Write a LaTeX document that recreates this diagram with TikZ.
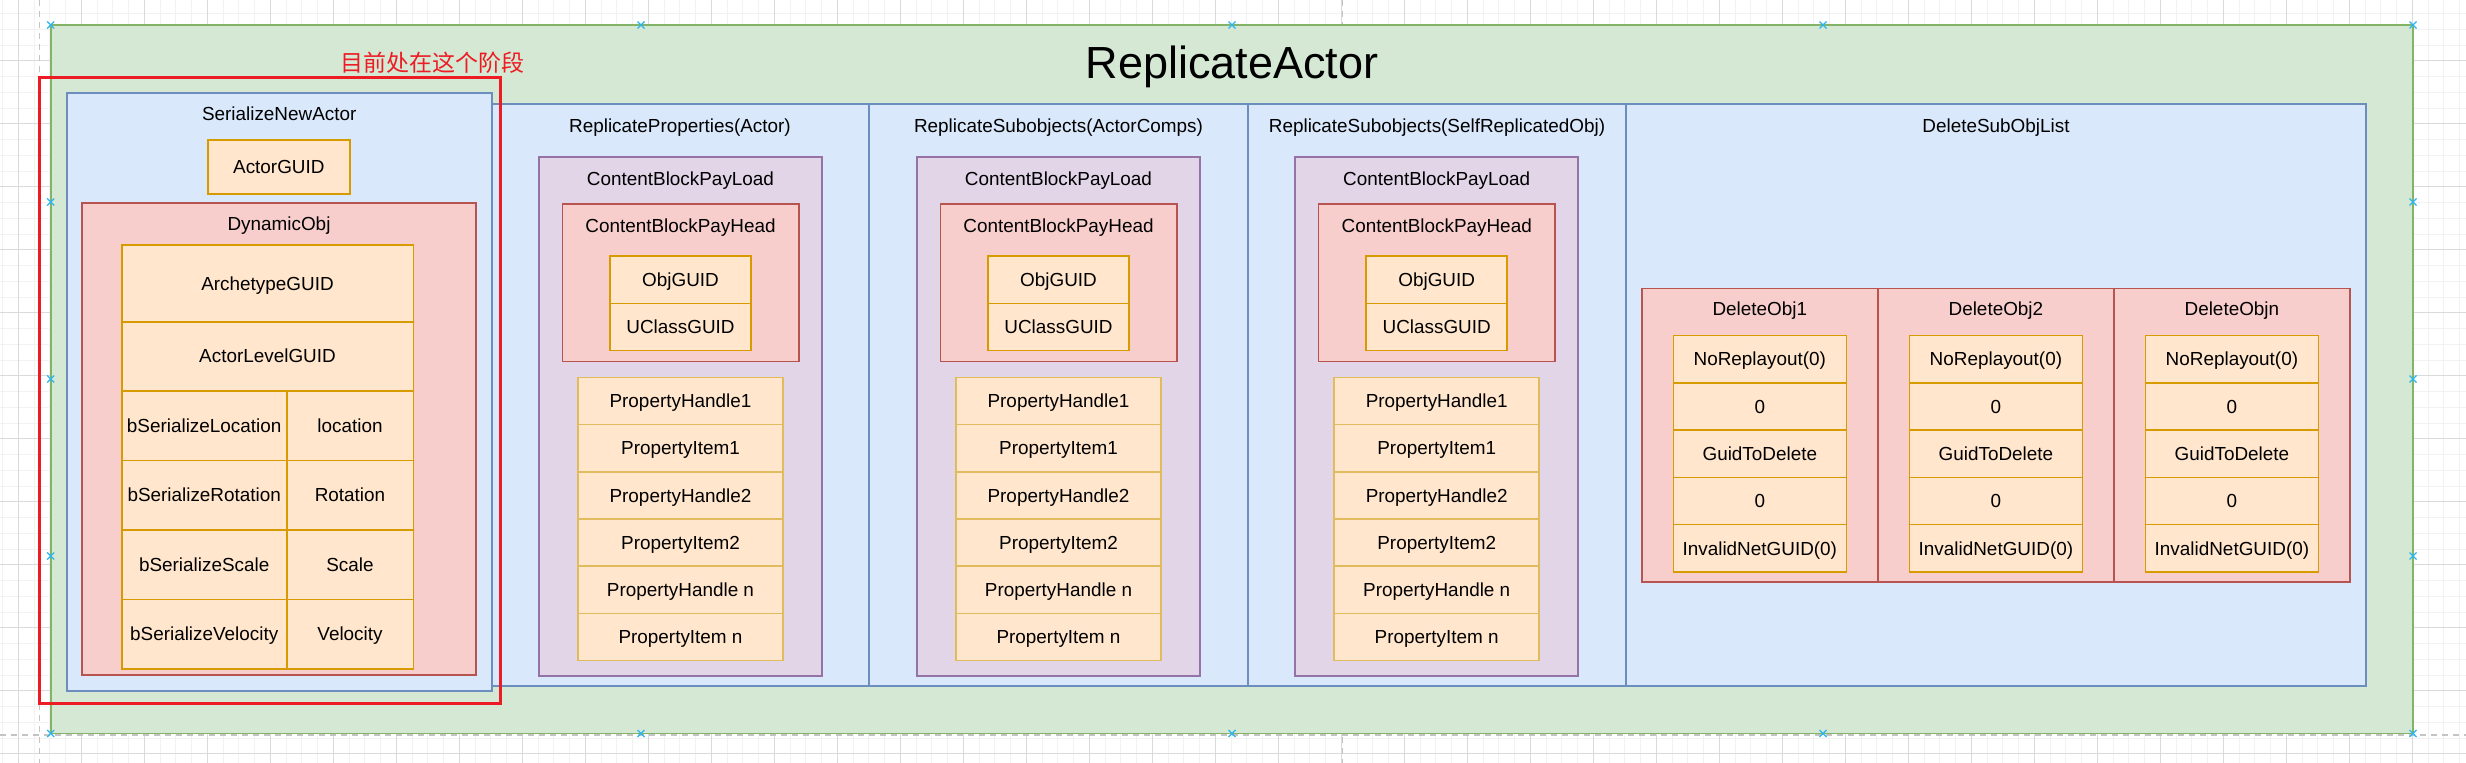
\documentclass[tikz,border=0pt]{standalone}
\usepackage{fontspec}
\setmainfont{Liberation Sans}
\newfontfamily\cjkfont{Noto Sans CJK SC}
\usetikzlibrary{positioning}
\definecolor{greenFill}{HTML}{D5E8D4}
\definecolor{greenLine}{HTML}{82B366}
\definecolor{blueFill}{HTML}{DAE8FC}
\definecolor{blueLine}{HTML}{6C8EBF}
\definecolor{redFill}{HTML}{F8CECC}
\definecolor{redLine}{HTML}{B85450}
\definecolor{orangeFill}{HTML}{FFE6CC}
\definecolor{orangeLine}{HTML}{D79B00}
\definecolor{softLine}{HTML}{E0BC5E}
\definecolor{purpleFill}{HTML}{E1D5E7}
\definecolor{purpleLine}{HTML}{9673A6}
\definecolor{hiRed}{HTML}{ED1C24}
\definecolor{gridMinor}{HTML}{F2F2F2}
\definecolor{gridMajor}{HTML}{DADADA}
\definecolor{pageGray}{HTML}{C4C4C4}
\definecolor{markBlue}{HTML}{29B6F2}
\newcommand\lblfont{\fontsize{18.9}{22}\selectfont}
\tikzset{
  anybox/.style={rectangle, inner sep=0pt, outer sep=0pt, line width=1.6pt},
  area/.style n args={4}{minimum width={(#3)-(#1)}, minimum height={(#4)-(#2)},
    at={({((#1)+(#3))/2},{((#2)+(#4))/2})}},
  outerframe/.style={anybox, fill=greenFill, draw=greenLine},
  sectionbox/.style={anybox, fill=blueFill, draw=blueLine},
  payloadbox/.style={anybox, fill=purpleFill, draw=purpleLine},
  headbox/.style={anybox, fill=redFill, draw=redLine},
  cellbox/.style={anybox, fill=orangeFill, draw=orangeLine, font=\lblfont, text height=13.5pt, text depth=0pt},
  softcell/.style={cellbox, draw=softLine},
  boxtitle/.style={font=\lblfont, text height=13.5pt, text depth=0pt, inner sep=0pt},
  hilite/.style={anybox, draw=hiRed, line width=3pt},
  gridmin/.style={draw=gridMinor, line width=0.8pt},
  gridmaj/.style={draw=gridMajor, line width=1.2pt},
  pagebreak/.style={draw=pageGray, line width=1.2pt, dash pattern=on 6pt off 5pt},
  xmark/.style={draw=markBlue, line width=1.3pt}
}
\begin{document}
\begin{tikzpicture}[x=1pt,y=-1pt]
% canvas and grid
\fill[white] (0,0) rectangle (2466,763);
\useasboundingbox (0,0) rectangle (2466,763);
\foreach \i in {0,...,156} \draw[gridmin] ({2.55+15.75*\i},0) -- ++(0,763);
\foreach \i in {0,...,48} \draw[gridmin] (0,{-2.3+15.75*\i}) -- ++(2466,0);
\foreach \i in {0,...,38} \draw[gridmaj] ({18.3+63*\i},0) -- ++(0,763);
\foreach \i in {0,...,12} \draw[gridmaj] (0,{-2.3+63*\i}) -- ++(2466,0);
\draw[pagebreak] (39.3,0) -- (39.3,763);
\draw[pagebreak] (1342.6,0) -- (1342.6,763);
\draw[pagebreak] (0,735) -- (2466,735);

% outer frame
\node[outerframe, area={50.7}{25}{2413}{733.5}] (ra) {};
\node[font=\fontsize{45}{54}\selectfont, text height=32.2pt, text depth=0pt, inner sep=0pt] (raT) at (1232,62) {ReplicateActor};
\node[text=hiRed, font=\cjkfont\fontsize{23}{28}\selectfont, inner sep=0pt, text height=19pt, text depth=1.6pt] (note) at (432,62.5) {目前处在这个阶段};

% sections
\node[sectionbox, area={491}{103.7}{869}{686}] (rp) {};
\node[sectionbox, area={869}{103.7}{1248}{686}] (rsa) {};
\node[sectionbox, area={1248}{103.7}{1626}{686}] (rss) {};
\node[sectionbox, area={1626}{103.7}{2366}{686}] (del) {};
\node[boxtitle] (rpT) at ([yshift=-21.8pt]rp.north) {ReplicateProperties(Actor)};
\node[boxtitle] (rsaT) at ([yshift=-21.8pt]rsa.north) {ReplicateSubobjects(ActorComps)};
\node[boxtitle] (rssT) at ([yshift=-21.8pt]rss.north) {ReplicateSubobjects(SelfReplicatedObj)};
\node[boxtitle] (delT) at ([yshift=-21.8pt]del.north) {DeleteSubObjList};

% payloads
\foreach \c/\n in {680.5/rp, 1058.5/rsa, 1436.7/rss}{
  \node[payloadbox, area={\c-141.5}{156.7}{\c+141.5}{676}] (pl\n) {};
  \node[boxtitle] (plT\n) at ([yshift=-22pt]pl\n.north) {ContentBlockPayLoad};
  \node[headbox, area={\c-118.2}{203.8}{\c+118.2}{361.5}] (hd\n) {};
  \node[boxtitle] (hdT\n) at ([yshift=-21.7pt]hd\n.north) {ContentBlockPayHead};
  \node[cellbox, area={\c-70.5}{256}{\c+70.5}{303.4}] (og\n) {ObjGUID};
  \node[cellbox, area={\c-70.5}{303.4}{\c+70.5}{350.5}] (uc\n) {UClassGUID};
  \foreach \t [count=\k] in {PropertyHandle1,PropertyItem1,PropertyHandle2,PropertyItem2,PropertyHandle n,PropertyItem n}
    \node[softcell, area={\c-102.5}{377.4+47.2*(\k-1)}{\c+102.5}{377.4+47.2*\k}] (pr\n\k) {\t};
}

% delete list
\foreach \c/\n/\t in {1759.8/1/DeleteObj1, 1995.9/2/DeleteObj2, 2231.9/3/DeleteObjn}{
  \node[headbox, area={\c-118}{288.4}{\c+118}{582}] (dobj\n) {};
  \node[boxtitle] (dobjT\n) at ([yshift=-20.1pt]dobj\n.north) {\t};
  \foreach \r [count=\k] in {NoReplayout(0),0,GuidToDelete,0,InvalidNetGUID(0)}
    \node[cellbox, area={\c-86.5}{335.4+47.3*(\k-1)}{\c+86.5}{335.4+47.3*\k}] (drow\n\k) {\r};
}

% serialize new actor
\node[sectionbox, area={66.7}{92.7}{491.7}{691}] (sna) {};
\node[boxtitle] (snaT) at ([yshift=-20.6pt]sna.north) {SerializeNewActor};
\node[cellbox, area={207.7}{140}{350}{194}] (aguid) {ActorGUID};
\node[headbox, area={82}{202.7}{476}{675}] (dyn) {};
\node[boxtitle] (dynT) at ([yshift=-20.6pt]dyn.north) {DynamicObj};
\node[cellbox, area={121.7}{245}{413.3}{321.7}] (arch) {ArchetypeGUID};
\node[cellbox, area={121.7}{321.7}{413.3}{390.7}] (lvl) {ActorLevelGUID};
\foreach \a/\b/\y/\z [count=\k] in {bSerializeLocation/location/390.7/460.3, bSerializeRotation/Rotation/460.3/530, bSerializeScale/Scale/530/599.3, bSerializeVelocity/Velocity/599.3/669}{
  \node[cellbox, area={121.7}{\y}{286.7}{\z}] (flag\k) {\a};
  \node[cellbox, area={286.7}{\y}{413.3}{\z}] (val\k) {\b};
}

% current stage
\node[hilite, area={39}{77}{500}{703.3}] (stage) {};

% handles
\foreach \x in {50.7,641,1232,1823,2413}
  \foreach \y in {25,733.5}
    \draw[xmark] (\x,\y) +(-3.5,-3.5) -- +(3.5,3.5) +(-3.5,3.5) -- +(3.5,-3.5);
\foreach \y in {202,379,556}
  \foreach \x in {50.7,2413}
    \draw[xmark] (\x,\y) +(-3.5,-3.5) -- +(3.5,3.5) +(-3.5,3.5) -- +(3.5,-3.5);
\end{tikzpicture}
\end{document}
